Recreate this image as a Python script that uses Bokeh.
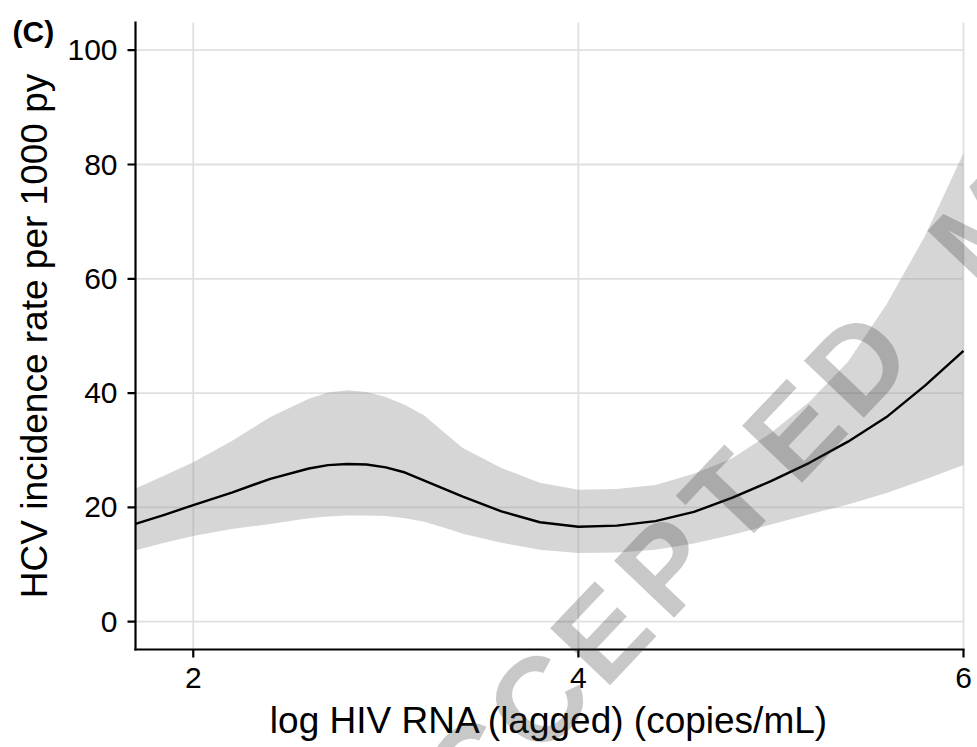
from bokeh.plotting import figure
from bokeh.models import Range1d, Label, ColumnDataSource
from bokeh.core.properties import value
from bokeh.embed import file_html
from bokeh.resources import INLINE
import math

# ---- data ----
x_vals = [1.7, 1.85, 2.0, 2.2, 2.4, 2.6, 2.7, 2.8, 2.9, 3.0, 3.1, 3.2, 3.3, 3.4,
          3.6, 3.8, 4.0, 4.2, 4.4, 4.6, 4.8, 5.0, 5.2, 5.4, 5.6, 5.8, 6.0]
fit = [17.1, 18.7, 20.4, 22.6, 25.0, 26.8, 27.4, 27.6, 27.5, 27.0, 26.1, 24.7, 23.3,
       21.9, 19.3, 17.4, 16.6, 16.8, 17.6, 19.2, 21.7, 24.6, 27.8, 31.5, 35.8, 41.3,
       47.4]
upper = [23.3, 25.6, 27.9, 31.6, 35.8, 39.0, 40.1, 40.5, 40.2, 39.3, 37.9, 36.1, 33.2,
         30.4, 26.9, 24.3, 23.1, 23.2, 23.9, 25.9, 28.6, 33.0, 38.5, 45.5, 55.5, 67.5,
         82.0]
lower = [12.5, 13.8, 15.0, 16.2, 17.1, 18.1, 18.4, 18.6, 18.6, 18.5, 18.1, 17.5, 16.5,
         15.4, 13.8, 12.6, 12.0, 12.1, 12.6, 13.7, 15.2, 17.0, 18.8, 20.5, 22.5, 24.9,
         27.4]

x_ticks = [2, 4, 6]
x_tick_labels = ["2", "4", "6"]
y_ticks = [0, 20, 40, 60, 80, 100]
y_tick_labels = ["0", "20", "40", "60", "80", "100"]
x_title = "log HIV RNA (lagged) (copies/mL)"
y_title = "HCV incidence rate per 1000 py"
panel_tag = "(C)"
watermark = "ACCEPTED MANUSCRIPT"

# axis limits of the panel
x_lo, x_hi = 1.7, 6.0
y_lo, y_hi = -4.87, 104.85

# ---- layout (pixels) ----
W, H = 977, 747
L, R, T, B = 135, 963, 22, 649          # panel edges on the canvas
FONT = "Liberation Sans"
TICK = 8

kx = (R - L) / (x_hi - x_lo)
ky = (B - T) / (y_hi - y_lo)

p = figure(width=W, height=H, output_backend="svg", toolbar_location=None,
           x_range=Range1d(x_lo - L / kx, x_hi + (W - R) / kx),
           y_range=Range1d(y_lo - (H - B) / ky, y_hi + T / ky),
           x_axis_type=None, y_axis_type=None, min_border=0)
p.outline_line_color = None
p.background_fill_color = "white"
p.border_fill_color = "white"
p.grid.visible = False

n_x, n_y = len(x_ticks), len(y_ticks)

# grid lines
p.segment(x0=x_ticks, y0=[y_lo] * n_x, x1=x_ticks, y1=[y_hi] * n_x,
          line_color="#e0e0e0", line_width=1.8)
p.segment(x0=[x_lo] * n_y, y0=y_ticks, x1=[x_hi] * n_y, y1=y_ticks,
          line_color="#e0e0e0", line_width=1.8)

# confidence band and fitted curve
src = ColumnDataSource(dict(x=x_vals, fit=fit, upper=upper, lower=lower))
p.varea(x="x", y1="lower", y2="upper", source=src,
        fill_color="#999999", fill_alpha=0.4)
p.line(x="x", y="fit", source=src, line_color="black", line_width=2.4,
       line_join="round")

# axis lines and ticks
p.segment(x0=[x_lo, x_lo], y0=[y_lo, y_lo], x1=[x_hi, x_lo], y1=[y_lo, y_hi],
          line_color="black", line_width=2.2, line_cap="square")
p.segment(x0=x_ticks, y0=[y_lo] * n_x, x1=x_ticks, y1=[y_lo - TICK / ky] * n_x,
          line_color="black", line_width=2.2)
p.segment(x0=[x_lo] * n_y, y0=y_ticks, x1=[x_lo - TICK / kx] * n_y, y1=y_ticks,
          line_color="black", line_width=2.2)

# tick labels
p.text(x=x_ticks, y=[y_lo] * n_x, text=x_tick_labels, y_offset=28,
       text_align="center", text_baseline="middle",
       text_font=value(FONT), text_font_size="30px", text_color="black")
p.text(x=[x_lo] * n_y, y=y_ticks, text=y_tick_labels, x_offset=-18,
       text_align="right", text_baseline="middle",
       text_font=value(FONT), text_font_size="30px", text_color="black")

# axis titles
p.text(x=[(x_lo + x_hi) / 2], y=[y_lo], text=[x_title], y_offset=71,
       text_align="center", text_baseline="middle",
       text_font=value(FONT), text_font_size="37px", text_color="black")
p.text(x=[x_lo], y=[(y_lo + y_hi) / 2], text=[y_title], x_offset=-101,
       angle=90, angle_units="deg",
       text_align="center", text_baseline="middle",
       text_font=value(FONT), text_font_size="37px", text_color="black")

# panel tag
p.add_layout(Label(x=12, y=H - 31, x_units="screen", y_units="screen",
                   text=panel_tag, text_font=FONT, text_font_size="30px",
                   text_font_style="bold", text_color="black",
                   text_baseline="middle"))

# watermark (decorative, letters laid along a slanted line)
ang = 46.5
adv = 93.0
ca, sa = math.cos(math.radians(ang)), math.sin(math.radians(ang))
cx0, cy0 = 537, H - 700   # centre of the third letter
for i, ch in enumerate(watermark):
    if ch == " ":
        continue
    k = i - 2
    p.add_layout(Label(x=cx0 + k * adv * ca, y=cy0 + k * adv * sa,
                       x_units="screen", y_units="screen", text=ch,
                       angle=ang, angle_units="deg",
                       text_align="center", text_baseline="middle",
                       text_font=FONT, text_font_size="120px",
                       text_font_style="bold", text_color="#333333",
                       text_alpha=0.27))

open("out.html", "w").write(file_html(p, INLINE))
